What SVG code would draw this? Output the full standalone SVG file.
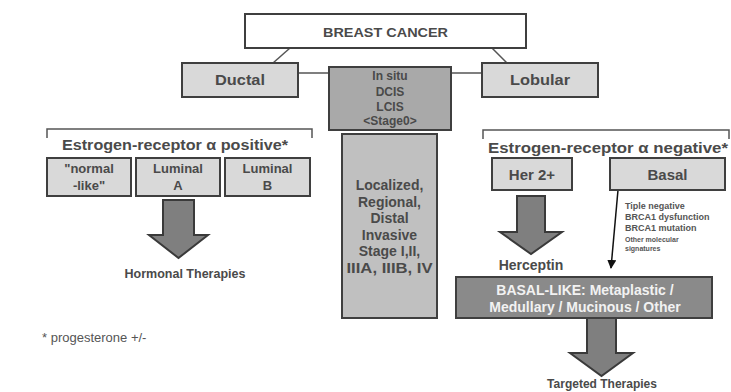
<svg xmlns="http://www.w3.org/2000/svg" width="731" height="392" viewBox="0 0 731 392">
<defs>
<style>
.box{fill:#d9d9d9;stroke:#3f3f3f;stroke-width:2}
.top{fill:#ffffff;stroke:#3f3f3f;stroke-width:2}
.situ{fill:#a9a9a9;stroke:#3f3f3f;stroke-width:2}
.inv{fill:#c0c0c0;stroke:#3f3f3f;stroke-width:2}
.dark{fill:#8a8a8a;stroke:#3f3f3f;stroke-width:2}
.arrow{fill:#7f7f7f;stroke:#3a3a3a;stroke-width:2}
.ln{stroke:#555555;stroke-width:1.5;fill:none}
.br{stroke:#555555;stroke-width:1.5;fill:none}
.t{font-family:"Liberation Sans",Arial,sans-serif;font-weight:bold;fill:#4a4a4a;text-anchor:middle}
.w{font-family:"Liberation Sans",Arial,sans-serif;font-weight:bold;fill:#f2f2f2;text-anchor:middle}
.s{font-family:"Liberation Sans",Arial,sans-serif;font-weight:bold;fill:#555555}
</style>
<marker id="ah" viewBox="0 0 10 10" refX="9" refY="5" markerWidth="6" markerHeight="6" orient="auto">
<path d="M0,0 L10,5 L0,10 Z" fill="#111"/>
</marker>
</defs>
<rect width="731" height="392" fill="#ffffff"/>

<g id="connectors">
<line class="ln" x1="290" y1="48" x2="273" y2="63"/>
<line class="ln" x1="492" y1="48" x2="507" y2="63"/>
<line class="ln" x1="298" y1="73" x2="329" y2="73"/>
<line class="ln" x1="451" y1="73" x2="482" y2="73"/>
<line x1="618" y1="190" x2="611" y2="268" stroke="#111" stroke-width="1.5" marker-end="url(#ah)"/>
<path class="arrow" d="M163,200 H194 V235 H208 L178.5,258 L149,235 H163 Z"/>
<path class="arrow" d="M517,196 H545 V232 H562 L531,254 L500,232 H517 Z"/>
<path class="arrow" d="M587,318 H616 V353 H633 L601.5,376 L570,353 H587 Z"/>
</g>

<g id="breast-cancer">
<rect class="top" x="245" y="14" width="281" height="34"/>
<text class="t" x="385.5" y="37" font-size="13" textLength="125" lengthAdjust="spacingAndGlyphs">BREAST CANCER</text>
</g>

<g id="ductal">
<rect class="box" x="182" y="63" width="116" height="34"/>
<text class="t" x="240" y="85" font-size="15" textLength="50" lengthAdjust="spacingAndGlyphs">Ductal</text>
</g>

<g id="lobular">
<rect class="box" x="482" y="63" width="116" height="34"/>
<text class="t" x="540" y="85" font-size="15" textLength="60" lengthAdjust="spacingAndGlyphs">Lobular</text>
</g>

<g id="in-situ">
<rect class="situ" x="329" y="67" width="122" height="63"/>
<text class="t" x="390" y="80" font-size="12">In situ</text>
<text class="t" x="390" y="96" font-size="12">DCIS</text>
<text class="t" x="390" y="111" font-size="12">LCIS</text>
<text class="t" x="390" y="125" font-size="12">&lt;Stage0&gt;</text>
</g>

<g id="invasive">
<rect class="inv" x="342" y="134" width="95" height="184"/>
<text class="t" x="389.5" y="190" font-size="14">Localized,</text>
<text class="t" x="389.5" y="207" font-size="14">Regional,</text>
<text class="t" x="389.5" y="223" font-size="14">Distal</text>
<text class="t" x="389.5" y="240" font-size="14">Invasive</text>
<text class="t" x="389.5" y="256" font-size="14">Stage I,II,</text>
<text class="t" x="389.5" y="273" font-size="14" textLength="86" lengthAdjust="spacingAndGlyphs">IIIA, IIIB, IV</text>
</g>

<g id="er-positive">
<path class="br" d="M47,138 V129 H312 V138"/>
<text class="t" x="175" y="150" font-size="14" textLength="226" lengthAdjust="spacingAndGlyphs">Estrogen-receptor α positive*</text>
</g>

<g id="normal-like">
<rect class="box" x="47" y="158" width="84" height="38"/>
<text class="t" x="89" y="173" font-size="13">"normal</text>
<text class="t" x="89" y="190" font-size="13">-like"</text>
</g>

<g id="luminal-a">
<rect class="box" x="136" y="158" width="84" height="38"/>
<text class="t" x="178" y="173" font-size="13">Luminal</text>
<text class="t" x="178" y="190" font-size="13">A</text>
</g>

<g id="luminal-b">
<rect class="box" x="225" y="158" width="85" height="38"/>
<text class="t" x="267.5" y="173" font-size="13">Luminal</text>
<text class="t" x="267.5" y="190" font-size="13">B</text>
</g>

<g id="hormonal">
<text class="t" x="185" y="278" font-size="12.5">Hormonal Therapies</text>
</g>

<g id="er-negative">
<path class="br" d="M483,139 V130 H729 V139"/>
<text class="t" x="608" y="153" font-size="15" textLength="240" lengthAdjust="spacingAndGlyphs">Estrogen-receptor α negative*</text>
</g>

<g id="her2">
<rect class="box" x="492" y="158" width="80" height="32"/>
<text class="t" x="532" y="180" font-size="15">Her 2+</text>
</g>

<g id="basal">
<rect class="box" x="610" y="158" width="115" height="32"/>
<text class="t" x="667.5" y="180" font-size="15">Basal</text>
<text class="s" x="625" y="209" font-size="9">Tiple negative</text>
<text class="s" x="625" y="220" font-size="9">BRCA1 dysfunction</text>
<text class="s" x="625" y="231" font-size="9">BRCA1 mutation</text>
<text class="s" x="625" y="242" font-size="7">Other molecular</text>
<text class="s" x="625" y="251" font-size="7">signatures</text>
</g>

<g id="herceptin">
<text class="t" x="531" y="270" font-size="14">Herceptin</text>
</g>

<g id="basal-like">
<rect class="dark" x="456" y="277" width="256" height="41"/>
<text class="w" x="585" y="295" font-size="14">BASAL-LIKE: Metaplastic /</text>
<text class="w" x="585" y="312" font-size="14">Medullary / Mucinous / Other</text>
</g>

<g id="targeted">
<text class="t" x="602" y="388" font-size="12">Targeted Therapies</text>
</g>

<g id="footnote">
<text x="42" y="342" font-family="Liberation Sans, Arial, sans-serif" font-size="13" fill="#555555">* progesterone +/-</text>
</g>
</svg>
